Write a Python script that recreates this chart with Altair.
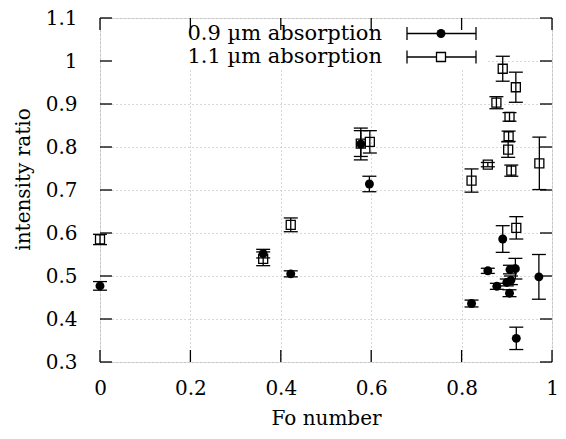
import altair as alt
import pandas as pd

SERIES = ["0.9 µm absorption", "1.1 µm absorption"]
X_TICKS = [0, 0.2, 0.4, 0.6, 0.8, 1]
Y_TICKS = [0.3, 0.4, 0.5, 0.6, 0.7, 0.8, 0.9, 1.0, 1.1]

# 0.9 um absorption (filled circles)
fo_09 = [0.0, 0.361, 0.422, 0.577, 0.596, 0.822, 0.858, 0.878, 0.891, 0.900,
         0.906, 0.909, 0.907, 0.919, 0.921, 0.971]
ratio_09 = [0.477, 0.552, 0.505, 0.807, 0.714, 0.436, 0.512, 0.476, 0.586, 0.485,
            0.460, 0.490, 0.515, 0.517, 0.355, 0.498]
err_09 = [0.010, 0.010, 0.007, 0.037, 0.018, 0.008, 0.006, 0.007, 0.031, 0.008,
          0.008, 0.010, 0.010, 0.024, 0.026, 0.052]

# 1.1 um absorption (open squares)
fo_11 = [0.0, 0.361, 0.422, 0.577, 0.597, 0.822, 0.858, 0.877, 0.891, 0.903,
         0.904, 0.906, 0.910, 0.920, 0.921, 0.972]
ratio_11 = [0.585, 0.540, 0.619, 0.808, 0.812, 0.722, 0.759, 0.903, 0.982, 0.794,
            0.825, 0.870, 0.745, 0.939, 0.612, 0.762]
err_11 = [0.012, 0.016, 0.016, 0.030, 0.026, 0.027, 0.005, 0.014, 0.029, 0.018,
          0.012, 0.010, 0.013, 0.035, 0.026, 0.061]


def frame(fo, ratio, err):
    d = pd.DataFrame({"fo": fo, "ratio": ratio, "err": err})
    d["lo"] = d["ratio"] - d["err"]
    d["hi"] = d["ratio"] + d["err"]
    return d


d09 = frame(fo_09, ratio_09, err_09)
d11 = frame(fo_11, ratio_11, err_11)
dall = pd.concat([d09, d11], ignore_index=True)

FONT = "DejaVu Serif"
W, H = 452, 344
TICK = 12
SW = 1.3

XS = alt.Scale(domain=[0, 1], nice=False, zero=False)
YS = alt.Scale(domain=[0.3, 1.1], nice=False, zero=False)

XAXIS = alt.Axis(values=X_TICKS, format="~g", title="Fo number", grid=True,
                 gridDash=[1, 3], gridColor="#b0b0b0", gridWidth=1,
                 ticks=False, tickSize=0, domain=False,
                 labelFont=FONT, labelFontSize=20, labelPadding=16,
                 labelFlush=False, labelOverlap=False, labelColor="black",
                 titleFont=FONT, titleFontSize=20, titleFontWeight="normal",
                 titleColor="black", titleY=56, titleBaseline="middle")
YAXIS = alt.Axis(values=Y_TICKS, format="~g", title="intensity ratio", grid=True,
                 gridDash=[1, 3], gridColor="#b0b0b0", gridWidth=1,
                 ticks=False, tickSize=0, domain=False,
                 labelFont=FONT, labelFontSize=20, labelPadding=23,
                 labelFlush=False, labelOverlap=False, labelColor="black",
                 titleFont=FONT, titleFontSize=20, titleFontWeight="normal",
                 titleColor="black", titleX=-77, titleY=161,
                 titleBaseline="middle", titleAlign="center")


def X(field):
    return alt.X(f"{field}:Q", scale=XS, axis=XAXIS)


def Y(field):
    return alt.Y(f"{field}:Q", scale=YS, axis=YAXIS)


# white key box hiding grid
keybox = alt.Chart(pd.DataFrame({"k": [0]})).mark_rect(color="white").encode(
    x=alt.value(1), x2=alt.value(388), y=alt.value(1), y2=alt.value(50))

# error bars
bars = alt.Chart(dall).mark_rule(color="black", strokeWidth=SW).encode(
    x=X("fo"), y=Y("lo"), y2="hi")
cap_lo = alt.Chart(dall).mark_rule(color="black", strokeWidth=SW, xOffset=-7, x2Offset=7).encode(
    x=X("fo"), x2="fo", y=Y("lo"))
cap_hi = alt.Chart(dall).mark_rule(color="black", strokeWidth=SW, xOffset=-7, x2Offset=7).encode(
    x=X("fo"), x2="fo", y=Y("hi"))

pts09 = alt.Chart(d09).mark_point(shape="circle", filled=True, color="black",
                                  size=80, opacity=1).encode(x=X("fo"), y=Y("ratio"))
pts11 = alt.Chart(d11).mark_point(shape="square", filled=False, color="black",
                                  size=81, strokeWidth=SW, opacity=1).encode(x=X("fo"), y=Y("ratio"))

# inward ticks on all four sides
dx = pd.DataFrame({"t": X_TICKS})
dy = pd.DataFrame({"t": Y_TICKS})
tick_b = alt.Chart(dx).mark_rule(color="black", strokeWidth=SW).encode(
    x=X("t"), y=alt.value(H), y2=alt.value(H - TICK))
tick_t = alt.Chart(dx).mark_rule(color="black", strokeWidth=SW).encode(
    x=X("t"), y=alt.value(0), y2=alt.value(TICK))
tick_l = alt.Chart(dy).mark_rule(color="black", strokeWidth=SW).encode(
    y=Y("t"), x=alt.value(0), x2=alt.value(TICK))
tick_r = alt.Chart(dy).mark_rule(color="black", strokeWidth=SW).encode(
    y=Y("t"), x=alt.value(W), x2=alt.value(W - TICK))

# key
ROW1, ROW2 = 15.5, 39
TX = 282
L0, L1, LM = 307, 376, 341
key_layers = []
for name, ry, shape, filled in [(SERIES[0], ROW1, "circle", True),
                                (SERIES[1], ROW2, "square", False)]:
    kd = pd.DataFrame({"name": [name]})
    key_layers.append(alt.Chart(kd).mark_text(align="right", baseline="middle",
                                              font=FONT, fontSize=21, color="black").encode(
        text="name:N", x=alt.value(TX), y=alt.value(ry)))
    key_layers.append(alt.Chart(kd).mark_rule(color="black", strokeWidth=SW).encode(
        x=alt.value(L0), x2=alt.value(L1), y=alt.value(ry)))
    key_layers.append(alt.Chart(kd).mark_rule(color="black", strokeWidth=SW).encode(
        x=alt.value(L0), y=alt.value(ry - 6.5), y2=alt.value(ry + 6.5)))
    key_layers.append(alt.Chart(kd).mark_rule(color="black", strokeWidth=SW).encode(
        x=alt.value(L1), y=alt.value(ry - 6.5), y2=alt.value(ry + 6.5)))
    if filled:
        key_layers.append(alt.Chart(kd).mark_point(shape=shape, filled=True, color="black",
                                                   size=80, opacity=1).encode(
            x=alt.value(LM), y=alt.value(ry)))
    else:
        key_layers.append(alt.Chart(kd).mark_point(shape=shape, filled=True, fill="white",
                                                   stroke="black", strokeWidth=SW,
                                                   size=81, opacity=1).encode(
            x=alt.value(LM), y=alt.value(ry)))

chart = alt.layer(keybox, bars, cap_lo, cap_hi, pts09, pts11,
                  tick_b, tick_t, tick_l, tick_r, *key_layers).properties(
    width=W, height=H,
    autosize=alt.AutoSizeParams(type="none"),
    padding={"left": 92, "top": 10, "right": 6, "bottom": 69},
).configure_view(stroke="black", strokeWidth=1.6).configure(font=FONT)

chart.save("out.html", embed_options={"renderer": "svg", "actions": False})
